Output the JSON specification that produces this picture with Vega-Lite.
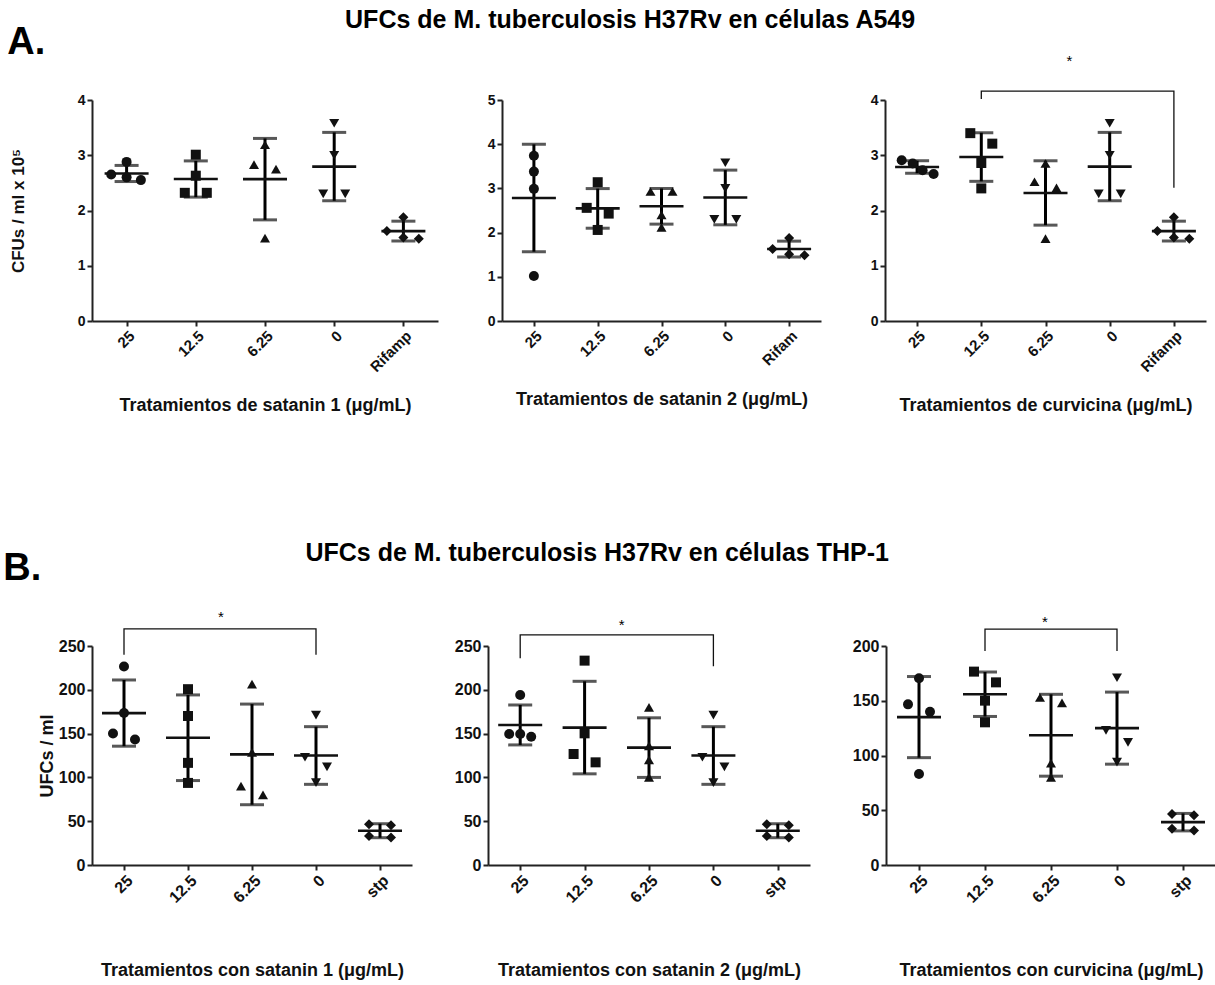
{
  "$schema": "https://vega.github.io/schema/vega-lite/v6.json",
  "background": "white",
  "padding": {"left": 3, "top": 8, "right": 0, "bottom": 0},
  "config": {
    "font": "Liberation Sans",
    "view": {"stroke": null},
    "mark": {"color": "#111"},
    "axis": {"domainColor": "#222", "domainWidth": 2, "tickColor": "#222", "tickWidth": 2, "tickSize": 5, "grid": false, "labelFont": "Liberation Sans", "labelFontWeight": "bold", "labelColor": "#111", "titleFont": "Liberation Sans", "titleFontWeight": "bold", "titleColor": "#111"},
    "title": {"font": "Liberation Sans", "fontWeight": "bold", "color": "#000", "frame": "bounds"}
  },
  "datasets": {
    "a1": [
      {"g": "25", "v": 2.65, "s": -1.4}, {"g": "25", "v": 2.88, "s": 0}, {"g": "25", "v": 2.6, "s": 0}, {"g": "25", "v": 2.55, "s": 1.3},
      {"g": "12.5", "v": 3.01, "s": 0}, {"g": "12.5", "v": 2.63, "s": 0}, {"g": "12.5", "v": 2.32, "s": -1}, {"g": "12.5", "v": 2.32, "s": 1},
      {"g": "6.25", "v": 3.19, "s": 0}, {"g": "6.25", "v": 2.83, "s": -1}, {"g": "6.25", "v": 2.75, "s": 1}, {"g": "6.25", "v": 1.5, "s": 0},
      {"g": "0", "v": 3.58, "s": 0}, {"g": "0", "v": 3.0, "s": 0}, {"g": "0", "v": 2.3, "s": -1}, {"g": "0", "v": 2.3, "s": 1},
      {"g": "Rifamp", "v": 1.88, "s": 0}, {"g": "Rifamp", "v": 1.63, "s": -1.5}, {"g": "Rifamp", "v": 1.51, "s": 0}, {"g": "Rifamp", "v": 1.49, "s": 1.4}
    ],
    "a2": [
      {"g": "25", "v": 3.74, "s": 0}, {"g": "25", "v": 3.38, "s": 0}, {"g": "25", "v": 2.99, "s": 0}, {"g": "25", "v": 1.02, "s": 0},
      {"g": "12.5", "v": 3.14, "s": 0}, {"g": "12.5", "v": 2.56, "s": -1}, {"g": "12.5", "v": 2.43, "s": 1}, {"g": "12.5", "v": 2.06, "s": 0},
      {"g": "6.25", "v": 2.93, "s": -1}, {"g": "6.25", "v": 2.93, "s": 1}, {"g": "6.25", "v": 2.4, "s": 0}, {"g": "6.25", "v": 2.12, "s": 0},
      {"g": "0", "v": 3.58, "s": 0}, {"g": "0", "v": 3.0, "s": 0}, {"g": "0", "v": 2.3, "s": -1}, {"g": "0", "v": 2.3, "s": 1},
      {"g": "Rifam", "v": 1.88, "s": 0}, {"g": "Rifam", "v": 1.63, "s": -1.5}, {"g": "Rifam", "v": 1.51, "s": 0}, {"g": "Rifam", "v": 1.49, "s": 1.4}
    ],
    "a3": [
      {"g": "25", "v": 2.91, "s": -1.4}, {"g": "25", "v": 2.85, "s": -0.4}, {"g": "25", "v": 2.73, "s": 0.5}, {"g": "25", "v": 2.66, "s": 1.5},
      {"g": "12.5", "v": 3.4, "s": -1}, {"g": "12.5", "v": 3.21, "s": 1}, {"g": "12.5", "v": 2.86, "s": 0}, {"g": "12.5", "v": 2.4, "s": 0},
      {"g": "6.25", "v": 2.85, "s": 0}, {"g": "6.25", "v": 2.52, "s": -1}, {"g": "6.25", "v": 2.41, "s": 1}, {"g": "6.25", "v": 1.49, "s": 0},
      {"g": "0", "v": 3.58, "s": 0}, {"g": "0", "v": 3.0, "s": 0}, {"g": "0", "v": 2.3, "s": -1}, {"g": "0", "v": 2.3, "s": 1},
      {"g": "Rifamp", "v": 1.88, "s": 0}, {"g": "Rifamp", "v": 1.63, "s": -1.5}, {"g": "Rifamp", "v": 1.51, "s": 0}, {"g": "Rifamp", "v": 1.49, "s": 1.4}
    ],
    "b1": [
      {"g": "25", "v": 226.7, "s": 0}, {"g": "25", "v": 173.5, "s": 0}, {"g": "25", "v": 150.2, "s": -1}, {"g": "25", "v": 143.3, "s": 1},
      {"g": "12.5", "v": 200.7, "s": 0}, {"g": "12.5", "v": 170.1, "s": 0}, {"g": "12.5", "v": 116.6, "s": 0}, {"g": "12.5", "v": 93.7, "s": 0},
      {"g": "6.25", "v": 206.5, "s": 0}, {"g": "6.25", "v": 128.5, "s": 0}, {"g": "6.25", "v": 90, "s": -1}, {"g": "6.25", "v": 80, "s": 1},
      {"g": "0", "v": 171, "s": 0}, {"g": "0", "v": 123, "s": -1}, {"g": "0", "v": 112, "s": 1}, {"g": "0", "v": 94, "s": 0},
      {"g": "stp", "v": 46.5, "s": -1}, {"g": "stp", "v": 45.5, "s": 1}, {"g": "stp", "v": 33, "s": -1}, {"g": "stp", "v": 31.5, "s": 1}
    ],
    "b2": [
      {"g": "25", "v": 194, "s": 0}, {"g": "25", "v": 149.5, "s": -1}, {"g": "25", "v": 149.5, "s": 0}, {"g": "25", "v": 146.5, "s": 1},
      {"g": "12.5", "v": 233.3, "s": 0}, {"g": "12.5", "v": 150.3, "s": 0}, {"g": "12.5", "v": 126.7, "s": -1}, {"g": "12.5", "v": 117.2, "s": 1},
      {"g": "6.25", "v": 180, "s": 0}, {"g": "6.25", "v": 136, "s": 0}, {"g": "6.25", "v": 120, "s": 0}, {"g": "6.25", "v": 100, "s": 0},
      {"g": "0", "v": 171, "s": 0}, {"g": "0", "v": 123, "s": -1}, {"g": "0", "v": 112, "s": 1}, {"g": "0", "v": 94, "s": 0},
      {"g": "stp", "v": 46.5, "s": -1}, {"g": "stp", "v": 45.5, "s": 1}, {"g": "stp", "v": 33, "s": -1}, {"g": "stp", "v": 31.5, "s": 1}
    ],
    "b3": [
      {"g": "25", "v": 170.5, "s": 0}, {"g": "25", "v": 146.7, "s": -1}, {"g": "25", "v": 140, "s": 1}, {"g": "25", "v": 83.1, "s": 0},
      {"g": "12.5", "v": 176.6, "s": -1}, {"g": "12.5", "v": 166.8, "s": 1}, {"g": "12.5", "v": 150.1, "s": 0}, {"g": "12.5", "v": 130.3, "s": 0},
      {"g": "6.25", "v": 153, "s": -1}, {"g": "6.25", "v": 148, "s": 1}, {"g": "6.25", "v": 93, "s": 0}, {"g": "6.25", "v": 80, "s": 0},
      {"g": "0", "v": 171, "s": 0}, {"g": "0", "v": 123, "s": -1}, {"g": "0", "v": 112, "s": 1}, {"g": "0", "v": 94, "s": 0},
      {"g": "stp", "v": 46.5, "s": -1}, {"g": "stp", "v": 45.5, "s": 1}, {"g": "stp", "v": 33, "s": -1}, {"g": "stp", "v": 31.5, "s": 1}
    ]
  },
  "bounds": "flush",
  "spacing": 546,
  "vconcat": [
    {
      "bounds": "flush",
      "spacing": 64,
      "hconcat": [
        {
          "title": {"text": "A.", "fontSize": 38, "anchor": "start", "dx": -2, "offset": 31},
          "width": 346, "height": 221,
          "data": {"name": "a1"},
          "encoding": {
            "x": {"field": "g", "type": "nominal", "sort": ["25", "12.5", "6.25", "0", "Rifamp"], "scale": {"type": "point", "padding": 0.5}, "axis": {"title": "Tratamientos de satanin 1 (μg/mL)", "labelAngle": -45, "labelFontSize": 15, "titleFontSize": 18, "titlePadding": 22}},
            "y": {"field": "v", "type": "quantitative", "scale": {"domain": [0, 4], "nice": false}, "axis": {"title": "CFUs / ml x 10⁵", "values": [0, 1, 2, 3, 4], "labelFontSize": 14, "titleFontSize": 17, "titlePadding": 50}}
          },
          "layer": [
            {"mark": {"type": "errorbar", "extent": "stdev", "ticks": true, "size": 24, "thickness": 3}},
            {"mark": {"type": "tick", "size": 44, "thickness": 2.6}, "encoding": {"y": {"aggregate": "mean", "field": "v", "type": "quantitative"}}},
            {"mark": {"type": "point", "filled": true, "size": 100, "opacity": 1}, "encoding": {
              "xOffset": {"field": "s", "type": "quantitative", "scale": {"domain": [-1, 1], "range": [-11, 11]}},
              "shape": {"field": "g", "type": "nominal", "scale": {"domain": ["25", "12.5", "6.25", "0", "Rifamp", "Rifam", "stp"], "range": ["circle", "square", "triangle-up", "triangle-down", "diamond", "diamond", "diamond"]}, "legend": null}}}
          ]
        },
        {
          "title": {"text": "UFCs de M. tuberculosis H37Rv en células A549", "fontSize": 25, "anchor": "middle", "dx": -24, "offset": 60},
          "width": 319, "height": 221,
          "data": {"name": "a2"},
          "encoding": {
            "x": {"field": "g", "type": "nominal", "sort": ["25", "12.5", "6.25", "0", "Rifam"], "scale": {"type": "point", "padding": 0.5}, "axis": {"title": "Tratamientos de satanin 2 (μg/mL)", "labelAngle": -45, "labelFontSize": 15, "titleFontSize": 18, "titlePadding": 22}},
            "y": {"field": "v", "type": "quantitative", "scale": {"domain": [0, 5], "nice": false}, "axis": {"title": null, "values": [0, 1, 2, 3, 4, 5], "labelFontSize": 14}}
          },
          "layer": [
            {"mark": {"type": "errorbar", "extent": "stdev", "ticks": true, "size": 24, "thickness": 3}},
            {"mark": {"type": "tick", "size": 44, "thickness": 2.6}, "encoding": {"y": {"aggregate": "mean", "field": "v", "type": "quantitative"}}},
            {"mark": {"type": "point", "filled": true, "size": 100, "opacity": 1}, "encoding": {
              "xOffset": {"field": "s", "type": "quantitative", "scale": {"domain": [-1, 1], "range": [-11, 11]}},
              "shape": {"field": "g", "type": "nominal", "scale": {"domain": ["25", "12.5", "6.25", "0", "Rifamp", "Rifam", "stp"], "range": ["circle", "square", "triangle-up", "triangle-down", "diamond", "diamond", "diamond"]}, "legend": null}}}
          ]
        },
        {
          "width": 321, "height": 221,
          "data": {"name": "a3"},
          "encoding": {
            "x": {"field": "g", "type": "nominal", "sort": ["25", "12.5", "6.25", "0", "Rifamp"], "scale": {"type": "point", "padding": 0.5}, "axis": {"title": "Tratamientos de curvicina (μg/mL)", "labelAngle": -45, "labelFontSize": 15, "titleFontSize": 18, "titlePadding": 22}},
            "y": {"field": "v", "type": "quantitative", "scale": {"domain": [0, 4], "nice": false}, "axis": {"title": null, "values": [0, 1, 2, 3, 4], "labelFontSize": 14}}
          },
          "layer": [
            {"mark": {"type": "errorbar", "extent": "stdev", "ticks": true, "size": 24, "thickness": 3}},
            {"mark": {"type": "tick", "size": 44, "thickness": 2.6}, "encoding": {"y": {"aggregate": "mean", "field": "v", "type": "quantitative"}}},
            {"mark": {"type": "point", "filled": true, "size": 100, "opacity": 1}, "encoding": {
              "xOffset": {"field": "s", "type": "quantitative", "scale": {"domain": [-1, 1], "range": [-11, 11]}},
              "shape": {"field": "g", "type": "nominal", "scale": {"domain": ["25", "12.5", "6.25", "0", "Rifamp", "Rifam", "stp"], "range": ["circle", "square", "triangle-up", "triangle-down", "diamond", "diamond", "diamond"]}, "legend": null}}},
            {"data": {"values": [{"g": "12.5", "v": 4.02, "k": 1}, {"g": "12.5", "v": 4.16, "k": 2}, {"g": "Rifamp", "v": 4.16, "k": 3}, {"g": "Rifamp", "v": 2.41, "k": 4}]},
             "mark": {"type": "line", "strokeWidth": 1.3}, "encoding": {"order": {"field": "k", "type": "quantitative"}}},
            {"data": {"values": [{"g": "6.25", "v": 4.71, "t": "*"}]},
             "mark": {"type": "text", "dx": 24, "fontSize": 15}, "encoding": {"text": {"field": "t"}}}
          ]
        }
      ]
    },
    {
      "bounds": "flush",
      "spacing": 76,
      "hconcat": [
        {
          "title": {"text": "B.", "fontSize": 38, "anchor": "start", "dx": -35, "offset": 22},
          "width": 320, "height": 219,
          "data": {"name": "b1"},
          "encoding": {
            "x": {"field": "g", "type": "nominal", "sort": ["25", "12.5", "6.25", "0", "stp"], "scale": {"type": "point", "padding": 0.5}, "axis": {"title": "Tratamientos con satanin 1  (μg/mL)", "labelAngle": -45, "labelFontSize": 16, "titleFontSize": 18, "titlePadding": 56}},
            "y": {"field": "v", "type": "quantitative", "scale": {"domain": [0, 250], "nice": false}, "axis": {"title": "UFCs / ml", "values": [0, 50, 100, 150, 200, 250], "labelFontSize": 16, "titleFontSize": 18, "titlePadding": 2}}
          },
          "layer": [
            {"mark": {"type": "errorbar", "extent": "stdev", "ticks": true, "size": 24, "thickness": 3}},
            {"mark": {"type": "tick", "size": 44, "thickness": 2.6}, "encoding": {"y": {"aggregate": "mean", "field": "v", "type": "quantitative"}}},
            {"mark": {"type": "point", "filled": true, "size": 100, "opacity": 1}, "encoding": {
              "xOffset": {"field": "s", "type": "quantitative", "scale": {"domain": [-1, 1], "range": [-11, 11]}},
              "shape": {"field": "g", "type": "nominal", "scale": {"domain": ["25", "12.5", "6.25", "0", "Rifamp", "Rifam", "stp"], "range": ["circle", "square", "triangle-up", "triangle-down", "diamond", "diamond", "diamond"]}, "legend": null}}},
            {"data": {"values": [{"g": "25", "v": 240, "k": 1}, {"g": "25", "v": 269.5, "k": 2}, {"g": "0", "v": 269.5, "k": 3}, {"g": "0", "v": 240, "k": 4}]},
             "mark": {"type": "line", "strokeWidth": 1.3}, "encoding": {"order": {"field": "k", "type": "quantitative"}}},
            {"data": {"values": [{"g": "12.5", "v": 283, "t": "*"}]},
             "mark": {"type": "text", "dx": 33, "fontSize": 15}, "encoding": {"text": {"field": "t"}}}
          ]
        },
        {
          "title": {"text": "UFCs de M. tuberculosis H37Rv en células THP-1", "fontSize": 25, "anchor": "middle", "dx": -35, "offset": 52},
          "width": 322, "height": 219,
          "data": {"name": "b2"},
          "encoding": {
            "x": {"field": "g", "type": "nominal", "sort": ["25", "12.5", "6.25", "0", "stp"], "scale": {"type": "point", "padding": 0.5}, "axis": {"title": "Tratamientos con satanin 2  (μg/mL)", "labelAngle": -45, "labelFontSize": 16, "titleFontSize": 18, "titlePadding": 56}},
            "y": {"field": "v", "type": "quantitative", "scale": {"domain": [0, 250], "nice": false}, "axis": {"title": null, "values": [0, 50, 100, 150, 200, 250], "labelFontSize": 16}}
          },
          "layer": [
            {"mark": {"type": "errorbar", "extent": "stdev", "ticks": true, "size": 24, "thickness": 3}},
            {"mark": {"type": "tick", "size": 44, "thickness": 2.6}, "encoding": {"y": {"aggregate": "mean", "field": "v", "type": "quantitative"}}},
            {"mark": {"type": "point", "filled": true, "size": 100, "opacity": 1}, "encoding": {
              "xOffset": {"field": "s", "type": "quantitative", "scale": {"domain": [-1, 1], "range": [-11, 11]}},
              "shape": {"field": "g", "type": "nominal", "scale": {"domain": ["25", "12.5", "6.25", "0", "Rifamp", "Rifam", "stp"], "range": ["circle", "square", "triangle-up", "triangle-down", "diamond", "diamond", "diamond"]}, "legend": null}}},
            {"data": {"values": [{"g": "25", "v": 236, "k": 1}, {"g": "25", "v": 262.6, "k": 2}, {"g": "0", "v": 262.6, "k": 3}, {"g": "0", "v": 227, "k": 4}]},
             "mark": {"type": "line", "strokeWidth": 1.3}, "encoding": {"order": {"field": "k", "type": "quantitative"}}},
            {"data": {"values": [{"g": "12.5", "v": 274, "t": "*"}]},
             "mark": {"type": "text", "dx": 37, "fontSize": 15}, "encoding": {"text": {"field": "t"}}}
          ]
        },
        {
          "width": 330, "height": 219,
          "data": {"name": "b3"},
          "encoding": {
            "x": {"field": "g", "type": "nominal", "sort": ["25", "12.5", "6.25", "0", "stp"], "scale": {"type": "point", "padding": 0.5}, "axis": {"title": "Tratamientos con curvicina  (μg/mL)", "labelAngle": -45, "labelFontSize": 16, "titleFontSize": 18, "titlePadding": 56}},
            "y": {"field": "v", "type": "quantitative", "scale": {"domain": [0, 200], "nice": false}, "axis": {"title": null, "values": [0, 50, 100, 150, 200], "labelFontSize": 16}}
          },
          "layer": [
            {"mark": {"type": "errorbar", "extent": "stdev", "ticks": true, "size": 24, "thickness": 3}},
            {"mark": {"type": "tick", "size": 44, "thickness": 2.6}, "encoding": {"y": {"aggregate": "mean", "field": "v", "type": "quantitative"}}},
            {"mark": {"type": "point", "filled": true, "size": 100, "opacity": 1}, "encoding": {
              "xOffset": {"field": "s", "type": "quantitative", "scale": {"domain": [-1, 1], "range": [-11, 11]}},
              "shape": {"field": "g", "type": "nominal", "scale": {"domain": ["25", "12.5", "6.25", "0", "Rifamp", "Rifam", "stp"], "range": ["circle", "square", "triangle-up", "triangle-down", "diamond", "diamond", "diamond"]}, "legend": null}}},
            {"data": {"values": [{"g": "12.5", "v": 195.5, "k": 1}, {"g": "12.5", "v": 215.5, "k": 2}, {"g": "0", "v": 215.5, "k": 3}, {"g": "0", "v": 195.5, "k": 4}]},
             "mark": {"type": "line", "strokeWidth": 1.3}, "encoding": {"order": {"field": "k", "type": "quantitative"}}},
            {"data": {"values": [{"g": "6.25", "v": 221.8, "t": "*"}]},
             "mark": {"type": "text", "dx": -6, "fontSize": 15}, "encoding": {"text": {"field": "t"}}}
          ]
        }
      ]
    }
  ]
}
